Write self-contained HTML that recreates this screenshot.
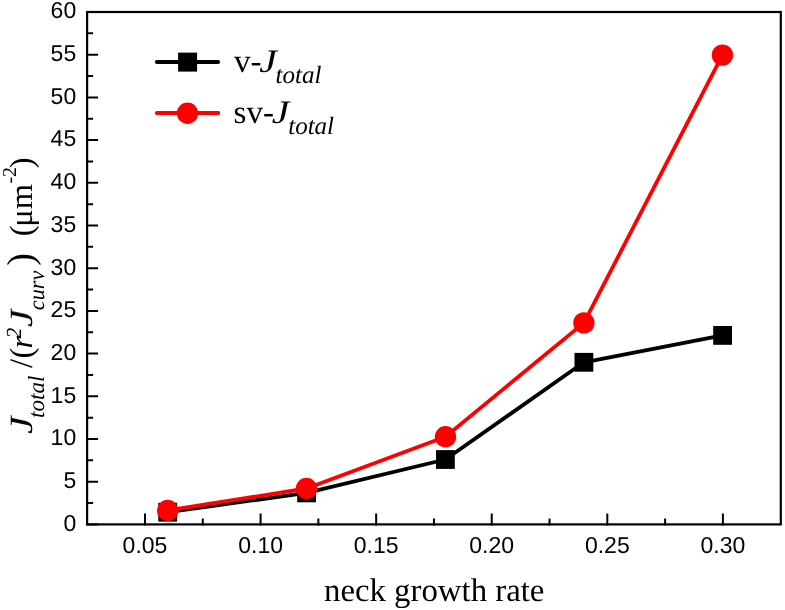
<!DOCTYPE html><html><head><meta charset="utf-8"><style>html,body{margin:0;padding:0;background:#fff;}svg{display:block;} .sans{font-family:"Liberation Sans",sans-serif;} .serif{font-family:"Liberation Serif",serif;} text{will-change:transform;text-rendering:geometricPrecision;}</style></head><body>
<svg width="785" height="610" viewBox="0 0 785 610">
<path d="M86.0 524.40H98.1M86.0 481.70H98.1M86.0 439.00H98.1M86.0 396.30H98.1M86.0 353.60H98.1M86.0 310.90H98.1M86.0 268.20H98.1M86.0 225.50H98.1M86.0 182.80H98.1M86.0 140.10H98.1M86.0 97.40H98.1M86.0 54.70H98.1M86.0 12.00H98.1M86.0 503.05H93.1M86.0 460.35H93.1M86.0 417.65H93.1M86.0 374.95H93.1M86.0 332.25H93.1M86.0 289.55H93.1M86.0 246.85H93.1M86.0 204.15H93.1M86.0 161.45H93.1M86.0 118.75H93.1M86.0 76.05H93.1M86.0 33.35H93.1M145.00 525.5V513.4M260.58 525.5V513.4M376.16 525.5V513.4M491.74 525.5V513.4M607.32 525.5V513.4M722.90 525.5V513.4M202.79 525.5V518.4M318.37 525.5V518.4M433.95 525.5V518.4M549.53 525.5V518.4M665.11 525.5V518.4" stroke="#000" stroke-width="2" fill="none"/>
<rect x="87.1" y="12.0" width="693.7" height="512.4" fill="none" stroke="#000" stroke-width="2.2"/>
<g class="sans" font-size="23" fill="#000">
<text x="76.2" y="530.7" text-anchor="end">0</text>
<text x="76.2" y="488.0" text-anchor="end">5</text>
<text x="76.2" y="445.3" text-anchor="end">10</text>
<text x="76.2" y="402.6" text-anchor="end">15</text>
<text x="76.2" y="359.9" text-anchor="end">20</text>
<text x="76.2" y="317.2" text-anchor="end">25</text>
<text x="76.2" y="274.5" text-anchor="end">30</text>
<text x="76.2" y="231.8" text-anchor="end">35</text>
<text x="76.2" y="189.1" text-anchor="end">40</text>
<text x="76.2" y="146.4" text-anchor="end">45</text>
<text x="76.2" y="103.7" text-anchor="end">50</text>
<text x="76.2" y="61.0" text-anchor="end">55</text>
<text x="76.2" y="18.3" text-anchor="end">60</text>
<text x="145.0" y="552.9" text-anchor="middle">0.05</text>
<text x="260.6" y="552.9" text-anchor="middle">0.10</text>
<text x="376.2" y="552.9" text-anchor="middle">0.15</text>
<text x="491.7" y="552.9" text-anchor="middle">0.20</text>
<text x="607.3" y="552.9" text-anchor="middle">0.25</text>
<text x="722.9" y="552.9" text-anchor="middle">0.30</text>
</g>
<path d="M167.7 512.2 L306.6 492.9 L445.4 459.5 L583.9 362.3 L722.6 335.4" stroke="#000" stroke-width="3.8" fill="none" stroke-linejoin="round" stroke-linecap="round"/>
<rect x="158.3" y="502.8" width="18.8" height="18.8" fill="#000"/>
<rect x="297.2" y="483.5" width="18.8" height="18.8" fill="#000"/>
<rect x="436.0" y="450.1" width="18.8" height="18.8" fill="#000"/>
<rect x="574.5" y="352.9" width="18.8" height="18.8" fill="#000"/>
<rect x="713.2" y="326.0" width="18.8" height="18.8" fill="#000"/>
<path d="M167.7 510.5 L306.5 488.5 L445.5 436.7 L583.9 322.9 L722.4 55.1" stroke="#f00" stroke-width="3.8" fill="none" stroke-linejoin="round" stroke-linecap="round"/>
<circle cx="167.7" cy="510.5" r="10.7" fill="#f00"/>
<circle cx="306.5" cy="488.5" r="10.7" fill="#f00"/>
<circle cx="445.5" cy="436.7" r="10.7" fill="#f00"/>
<circle cx="583.9" cy="322.9" r="10.7" fill="#f00"/>
<circle cx="722.4" cy="55.1" r="10.7" fill="#f00"/>
<path d="M156.8 62H218.2" stroke="#000" stroke-width="3.8" stroke-linecap="round"/>
<rect x="178.1" y="52.6" width="19" height="19" fill="#000"/>
<path d="M156.8 113H218.3" stroke="#f00" stroke-width="3.8" stroke-linecap="round"/>
<circle cx="187.5" cy="113.2" r="10.7" fill="#f00"/>
<g class="serif" font-size="33" fill="#000">
<text x="234.0" y="71.9">v-</text>
<text transform="translate(269.15,71.9) scale(1.2,1)" x="-8.2" y="0" font-style="italic">J</text>
<text x="275.5" y="83.2" font-style="italic" font-size="25">total</text>
<text x="233.6" y="123.1">sv-</text>
<text transform="translate(281.5,123.1) scale(1.2,1)" x="-8.2" y="0" font-style="italic">J</text>
<text x="288.2" y="134.0" font-style="italic" font-size="25">total</text>
</g>
<text x="324.0" y="601.2" class="serif" font-size="32.8">neck growth rate</text>
<g transform="rotate(-90)" class="serif" fill="#000">
<text x="-417.9" y="43.7" font-size="23" font-style="italic">total</text>
<text x="-368.1" y="32.0" font-size="32.5">/</text>
<text x="-358.6" y="32.0" font-size="32.5">(</text>
<text x="-348.4" y="32.0" font-size="32.5" font-style="italic">r</text>
<text x="-338.5" y="21.0" font-size="21.5" font-style="italic">2</text>
<text x="-310.2" y="43.7" font-size="22.2" font-style="italic">curv</text>
<text x="-265.7" y="33.0" font-size="38">)</text>
<text x="-236.2" y="32.0" font-size="32.5">(</text>
<text x="-226.7" y="32.0" font-size="32.5">μ</text>
<text x="-209.3" y="32.0" font-size="32.5">m</text>
<text x="-183.5" y="16.1" font-size="19.8">-2</text>
<text x="-168.15" y="32.0" font-size="32.5">)</text>
<text transform="translate(-424.0,32) scale(1.22,1)" x="-8.09" y="0" font-size="32.5" font-style="italic">J</text>
<text transform="translate(-317.15,32) scale(1.22,1)" x="-8.09" y="0" font-size="32.5" font-style="italic">J</text>
</g>
</svg></body></html>
